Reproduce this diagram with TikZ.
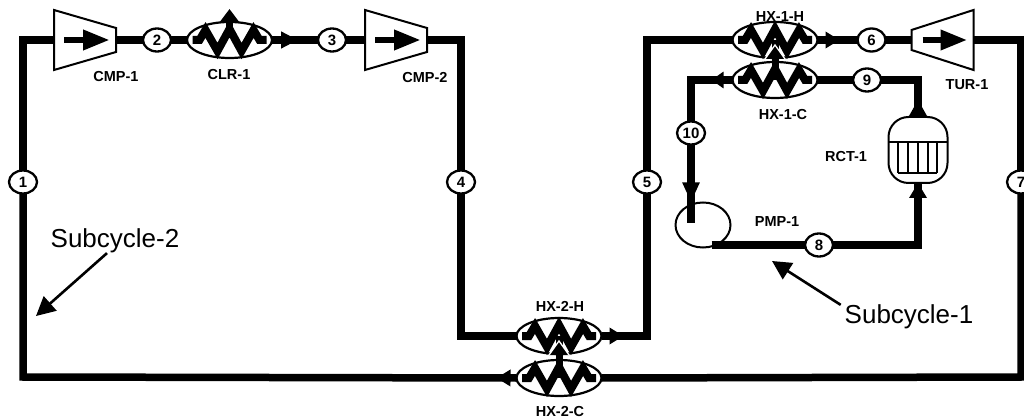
\documentclass[tikz,border=0pt]{standalone}
\usepackage{fontspec}
\setmainfont{Liberation Sans}
\usetikzlibrary{shapes.geometric, arrows.meta, positioning, calc, decorations.markings}

\tikzset{
  pipe/.style={line width=7.5pt, line cap=butt, line join=miter},
  midtip/.style 2 args={decoration={markings, mark=at position #1 with {\arrow{Triangle[length=#2pt, width=16pt]}}}, postaction={decorate}},
  tagnode/.style={draw, fill=white, ellipse, line width=2.3pt, minimum width=28pt, minimum height=23pt, inner sep=0pt, outer sep=0pt, font=\bfseries\fontsize{15}{15}\selectfont},
  compbox/.style={minimum width=62pt, minimum height=60pt, inner sep=0pt, outer sep=0pt},
  compline/.style={line width=2pt, line join=miter},
  hxnode/.style={draw, fill=white, ellipse, line width=2.2pt, minimum width=85pt, minimum height=36pt, inner sep=0pt, outer sep=0pt},
  unitlabel/.style={inner sep=0pt, outer sep=0pt, font=\bfseries\fontsize{14.5}{14.5}\selectfont},
  sublabel/.style={inner sep=0pt, outer sep=0pt, font=\fontsize{26}{26}\selectfont},
  pointer/.style={line width=2.6pt, -{Triangle[length=19pt, width=19pt]}},
  spinarrow/.style={line width=6.5pt, -{Triangle[length=27pt, width=19pt]}},
  hxcoil/.pic={
    \draw[line width=8pt, line join=miter, miter limit=4] (-37,0) -- (-30,0) -- (-24,-10) -- (-12,11) -- (0,-11) -- (12,11) -- (24,-10) -- (30,0) -- (37,0);
  },
  hxtip/.pic={
    \fill[black] (-10,14) -- (0,0) -- (10,14) -- cycle;
    \draw[white, line width=1.3pt] (-10,14) -- (0,0) -- (10,14);
  }
}

\begin{document}
\begin{tikzpicture}[x=1pt, y=-1pt]
  \useasboundingbox (0,0) rectangle (1024,419);

  % top row of subcycle 2
  \node (cmp1) [compbox] at (85,40) {};
  \node (tag2) [tagnode, right=27pt of cmp1] {2};
  \node (clr1) [hxnode, right=16pt of tag2] {};
  \node (tag3) [tagnode, right=46pt of clr1] {3};
  \node (cmp2) [compbox, right=19pt of tag3] {};
  \node (tag1) [tagnode] at (23,182) {1};
  \node (tag4) [tagnode] at (461,182) {4};

  % shared exchangers
  \node (hx2h) [hxnode] at (559,336) {};
  \node (hx2c) [hxnode, below=6pt of hx2h] {};
  \node (tag5) [tagnode] at (647,182) {5};
  \node (hx1h) [hxnode] at (775,40) {};
  \node (hx1c) [hxnode, below=4pt of hx1h] {};
  \node (tag6) [tagnode, right=40pt of hx1h] {6};
  \node (tur1) [compbox, right=26pt of tag6] {};
  \node (tag7) [tagnode] at (1021,182) {7};

  % subcycle 1
  \node (tag9) [tagnode] at (867,80) {9};
  \node (tag10) [tagnode] at (691,133) {10};
  \node (pmp1) [draw, ellipse, line width=2pt, minimum width=55pt, minimum height=45pt, inner sep=0pt, outer sep=0pt] at (703,225) {};
  \node (tag8) [tagnode] at (819,245) {8};
  \node (rct1) [draw, fill=white, rounded corners=20pt, line width=2pt, minimum width=59pt, minimum height=66pt, inner sep=0pt, outer sep=0pt] at (918,150) {};

  \coordinate (c1) at (23,40);
  \coordinate (c2) at (23,377);
  \coordinate (c3) at (1021,377);
  \coordinate (c4) at (1021,40);
  \coordinate (c5) at (461,40);
  \coordinate (c6) at (461,336);
  \coordinate (c7) at (647,336);
  \coordinate (c8) at (647,40);
  \coordinate (c9) at (691,80);
  \coordinate (c10) at (918,80);
  \coordinate (c11) at (918,245);
  \coordinate (pmpend) at (691,223);

  % machine outlines
  \draw[compline] (cmp1.north west) -- ([yshift=-18pt]cmp1.north east) -- ([yshift=18pt]cmp1.south east) -- (cmp1.south west) -- cycle;
  \draw[compline] (cmp2.north west) -- ([yshift=-18pt]cmp2.north east) -- ([yshift=18pt]cmp2.south east) -- (cmp2.south west) -- cycle;
  \draw[compline, yshift=2pt] (tur1.north east) -- ([yshift=-20pt]tur1.north west) -- ([yshift=20pt]tur1.south west) -- (tur1.south east) -- cycle;

  % outer loop
  \draw[pipe] (tag1) -- (c1) -- (cmp1.west);
  \draw[pipe] (cmp1.east) -- (tag2);
  \draw[pipe] (tag2) -- (clr1);
  \draw[pipe, midtip={26pt}{17}] (clr1.east) -- (tag3);
  \draw[pipe] (tag3) -- (cmp2.west);
  \draw[pipe] (cmp2.east) -- (c5) -- (tag4);
  \draw[pipe] (tag4) -- (c6) -- (hx2h.west);
  \draw[pipe, midtip={22pt}{14}] (hx2h.east) -- (c7) -- (tag5);
  \draw[pipe] (tag5) -- (c8) -- (hx1h.west);
  \draw[pipe, midtip={22pt}{14}] (hx1h.east) -- (tag6);
  \draw[pipe] (tag6) -- (tur1.west);
  \draw[pipe] (tur1.east) -- (c4) -- (tag7);
  \draw[pipe] (tag7) -- (c3) -- (hx2c.east);
  \draw[pipe, midtip={20pt}{14}] (hx2c.west) -- (c2) -- (tag1);

  % inner loop
  \draw[pipe] (tag9) -- (hx1c.east);
  \draw[pipe, midtip={21pt}{12}] (hx1c.west) -- (c9) -- (tag10);
  \draw[pipe, midtip={58pt}{20}] (tag10) -- (pmpend);
  \draw[pipe] (pmp1.-68 |- tag8) -- (tag8);
  \draw[pipe] (tag8) -- (c11) -- (rct1.south);
  \draw[pipe] (rct1.north) -- (c10) -- (tag9);
  \fill[black] (918,183) -- (909,198) -- (927,198) -- cycle;
  \fill[black] (918,100) -- (909,116) -- (927,116) -- cycle;

  % reactor core
  \draw[line width=2pt] (rct1.west |- 0,142) -- (rct1.east |- 0,142);
  \draw[line width=2pt] (898,173) -- (937,173);
  \draw[line width=2pt] (898,142) -- (898,173) (908,142) -- (908,173) (918,142) -- (918,173) (928,142) -- (928,173) (937,142) -- (937,173);

  % coils
  \path (clr1) pic {hxcoil};
  \path (hx1h) pic {hxcoil};
  \path (hx1c) pic {hxcoil};
  \path (hx2h) pic {hxcoil};
  \path (hx2c) pic {hxcoil};
  \draw[line width=7pt, -{Triangle[length=14pt, width=20pt]}] ([yshift=12pt]clr1.center) -- ([yshift=31pt]clr1.center);
  \draw[line width=7pt] (hx1c.center) -- (hx1h.center);
  \draw[line width=7pt] (hx2c.center) -- (hx2h.center);
  \path ([yshift=-5pt]hx1h.center) pic {hxtip};
  \path ([yshift=-5pt]hx2h.center) pic {hxtip};

  % machine arrows
  \draw[spinarrow] ([xshift=-21pt]cmp1.center) -- ([xshift=25pt]cmp1.center);
  \draw[spinarrow] ([xshift=-21pt]cmp2.center) -- ([xshift=25pt]cmp2.center);
  \draw[spinarrow] ([xshift=-20pt]tur1.center) -- ([xshift=25pt]tur1.center);

  % names
  \node (cmp1lbl) [unitlabel] at (116,77) {CMP-1};
  \node (clr1lbl) [unitlabel] at (229,75) {CLR-1};
  \node (cmp2lbl) [unitlabel] at (425,78) {CMP-2};
  \node (hx1hlbl) [unitlabel] at (780,17) {HX-1-H};
  \node (hx1clbl) [unitlabel] at (783,115) {HX-1-C};
  \node (tur1lbl) [unitlabel] at (967,85) {TUR-1};
  \node (rct1lbl) [unitlabel] at (846,157) {RCT-1};
  \node (pmp1lbl) [unitlabel] at (777,222) {PMP-1};
  \node (hx2hlbl) [unitlabel] at (560,306) {HX-2-H};
  \node (hx2clbl) [unitlabel] at (560,412) {HX-2-C};

  \node (sub2lbl) [sublabel] at (115,241) {Subcycle-2};
  \node (sub1lbl) [sublabel] at (909,317) {Subcycle-1};
  \coordinate (sub2tip) at (36,316);
  \coordinate (sub1tip) at (772,261);
  \draw[pointer] ([xshift=-8pt]sub2lbl.south) -- (sub2tip);
  \draw[pointer] ([xshift=-4pt]sub1lbl.north west) -- (sub1tip);
\end{tikzpicture}
\end{document}
